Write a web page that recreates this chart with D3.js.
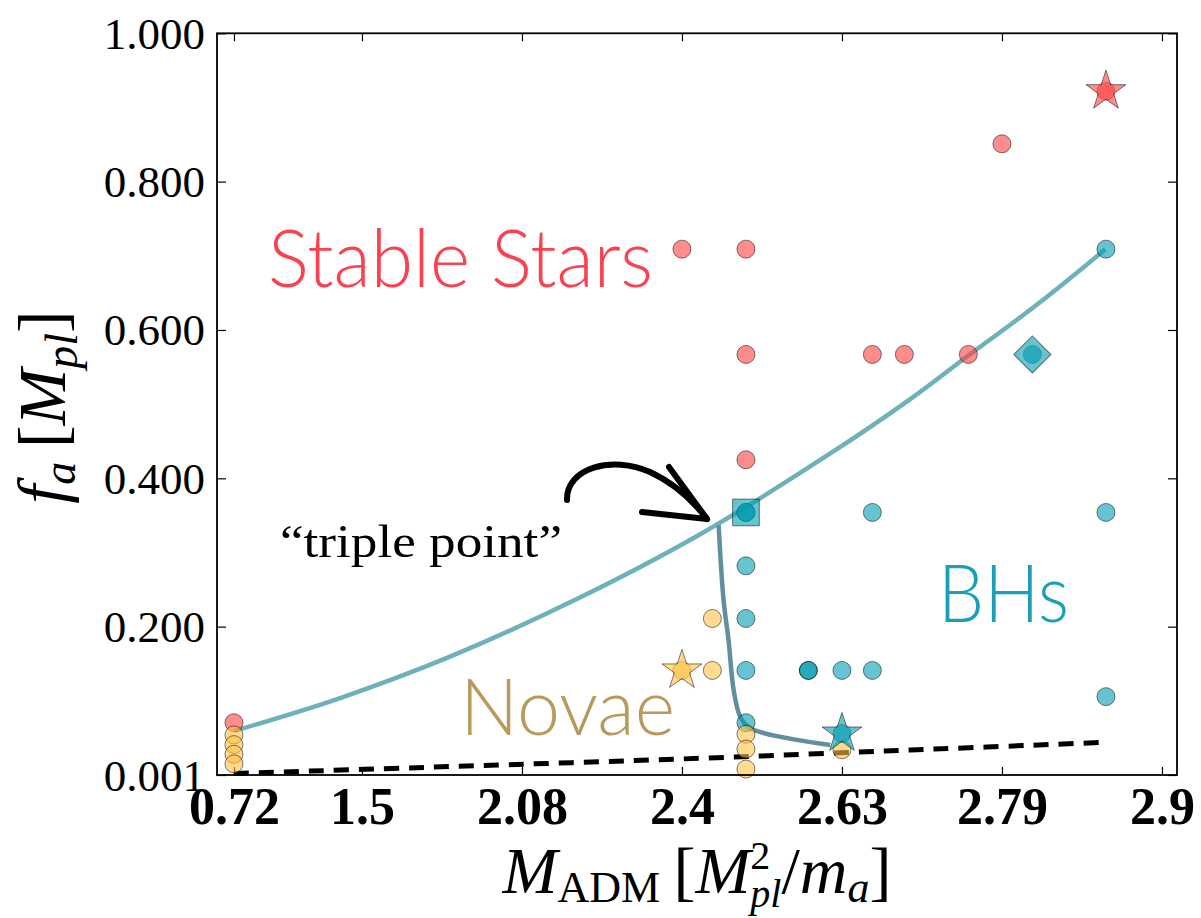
<!DOCTYPE html>
<html>
<head>
<meta charset="utf-8">
<script src="https://cdn.jsdelivr.net/npm/d3@7"></script>
<style>
html,body{margin:0;padding:0;background:#fff;}
svg{display:block;}
</style>
</head>
<body>
<svg id="chart" width="1201" height="918"></svg>
<script>
// ---------- data ----------
const xTickPos = [0.2, 1, 2, 3, 4, 5, 6];
const xTickLabels = ["0.72", "1.5", "2.08", "2.4", "2.63", "2.79", "2.9"];
const yTickPos = [0, 0.2, 0.4, 0.6, 0.8, 1.0];
const yTickLabels = ["0.001", "0.200", "0.400", "0.600", "0.800", "1.000"];

// stable stars (red circles)
const starsX = [0.2, 3.0, 3.4, 3.4, 3.4, 4.19, 4.39, 4.79, 5.0];
const starsY = [0.0705, 0.709, 0.709, 0.567, 0.425, 0.567, 0.567, 0.567, 0.851];
// black holes (teal circles)
const bhX = [3.4, 3.4, 3.4, 3.4, 3.4, 4.0, 4.19, 4.19, 5.65, 5.65, 5.65];
const bhY = [0.354, 0.282, 0.211, 0.141, 0.0705, 0.141, 0.354, 0.141, 0.709, 0.354, 0.1056];
// highlighted dark BH
const bhDarkX = [3.79];
const bhDarkY = [0.141];
// novae (yellow circles)
const novaeX = [0.2, 0.2, 0.2, 0.2, 3.19, 3.19, 3.4, 3.4, 3.4, 4.0];
const novaeY = [0.054, 0.041, 0.028, 0.015, 0.211, 0.141, 0.055, 0.035, 0.008, 0.034];

// special markers
const redStar = {x: 5.65, y: 0.922};
const tealStar = {x: 4.0, y: 0.056};
const yellowStar = {x: 3.0, y: 0.141};
const tealDiamond = {x: 5.19, y: 0.567};
const tealSquare = {x: 3.4, y: 0.354};

// boundary curve (stars / BHs)
const boundaryX = [0.2, 0.864, 1.539, 2.333, 3.114, 3.927, 4.427, 4.79, 5.24, 5.646];
const boundaryY = [0.0593, 0.1038, 0.1585, 0.2362, 0.3246, 0.4335, 0.5068, 0.5655, 0.6377, 0.7087];
// novae / BH boundary from the triple point
const tripleX = [3.229, 3.26, 3.291, 3.323, 3.364, 3.427, 3.927];
const tripleY = [0.337, 0.236, 0.182, 0.1146, 0.0786, 0.063, 0.0404];
// dashed lower line
const dashX = [0.2, 1.54, 3.11, 4.43, 5.62];
const dashY = [0.002, 0.0113, 0.0225, 0.0337, 0.0438];

// ---------- layout ----------
const L = 217, R = 1177, T = 33.3, B = 775;
const svg = d3.select("#chart");
const x = d3.scaleLinear().domain([0.094, 6.094]).range([L, R]);
const y = d3.scaleLinear().domain([0, 1]).range([B, T]);

const serif = "'Liberation Serif', 'Times New Roman', serif";
const sans = "Lato, 'Open Sans', sans-serif";

// ---------- axes ----------
const axB = svg.append("g").attr("transform", `translate(0,${B})`)
  .call(d3.axisBottom(x).tickValues(xTickPos).tickFormat((d, i) => xTickLabels[i]).tickSize(-8));
axB.select(".domain").remove();
axB.selectAll("text").attr("y", 49).attr("dy", 0)
  .style("font-family", serif).style("font-size", "52px").style("font-weight", "bold").attr("fill", "#000");

const axT = svg.append("g").attr("transform", `translate(0,${T})`)
  .call(d3.axisTop(x).tickValues(xTickPos).tickFormat("").tickSize(-8));
axT.select(".domain").remove();

const axL = svg.append("g").attr("transform", `translate(${L},0)`)
  .call(d3.axisLeft(y).tickValues(yTickPos).tickFormat((d, i) => yTickLabels[i]).tickSize(-9));
axL.select(".domain").remove();
axL.selectAll("text").attr("x", -12).attr("dy", 0).attr("y", 15)
  .style("font-family", serif).style("font-size", "45px").style("font-weight", "normal").attr("fill", "#000");

const axR = svg.append("g").attr("transform", `translate(${R},0)`)
  .call(d3.axisRight(y).tickValues(yTickPos).tickFormat("").tickSize(-9));
axR.select(".domain").remove();

svg.selectAll(".tick line").attr("stroke", "#000").attr("stroke-width", 1.2);

// ---------- lines ----------
const lineGen = d3.line().x(d => x(d[0])).y(d => y(d[1])).curve(d3.curveCatmullRom.alpha(0.5));
svg.append("path").datum(dashX.map((d, i) => [d, dashY[i]]))
  .attr("d", lineGen).attr("fill", "none").attr("stroke", "#000")
  .attr("stroke-width", 5).attr("stroke-dasharray", "15,10");
svg.append("path").datum(boundaryX.map((d, i) => [d, boundaryY[i]]))
  .attr("d", lineGen).attr("fill", "none").attr("stroke", "#6db2ba").attr("stroke-width", 4.5);
svg.append("path").datum(tripleX.map((d, i) => [d, tripleY[i]]))
  .attr("d", lineGen).attr("fill", "none").attr("stroke", "#5f8fa0").attr("stroke-width", 4.5);

// ---------- markers ----------
const RED = "#ff4040", TEAL = "#009bb1", YEL = "#ffc144";
const mk = svg.append("g");
function circles(xs, ys, color, op, strokeOp) {
  mk.selectAll(null).data(xs.map((d, i) => [d, ys[i]])).enter().append("circle")
    .attr("cx", d => x(d[0])).attr("cy", d => y(d[1])).attr("r", 9)
    .attr("fill", color).attr("fill-opacity", op)
    .attr("stroke", "#000").attr("stroke-opacity", strokeOp).attr("stroke-width", 1);
}
function symbol(p, type, size, color, rot) {
  mk.append("path")
    .attr("d", d3.symbol().type(type).size(size)())
    .attr("transform", `translate(${x(p.x)},${y(p.y)}) rotate(${rot || 0})`)
    .attr("fill", color).attr("fill-opacity", 0.6)
    .attr("stroke", "#000").attr("stroke-opacity", 0.5).attr("stroke-width", 1);
}
circles(starsX, starsY, RED, 0.6, 0.5);
circles(bhX, bhY, TEAL, 0.6, 0.5);
circles(bhDarkX, bhDarkY, TEAL, 0.85, 0.8);
circles(novaeX, novaeY, YEL, 0.6, 0.5);
// special points: circle + symbol
circles([redStar.x], [redStar.y], RED, 0.6, 0.3);
symbol(redStar, d3.symbolStar, 495, RED);
circles([yellowStar.x], [yellowStar.y], YEL, 0.6, 0.3);
symbol(yellowStar, d3.symbolStar, 495, YEL);
circles([tealStar.x], [tealStar.y], TEAL, 0.6, 0.3);
symbol(tealStar, d3.symbolStar, 495, TEAL);
circles([tealDiamond.x], [tealDiamond.y], TEAL, 0.6, 0.3);
symbol(tealDiamond, d3.symbolSquare, 690, TEAL, 45);
circles([tealSquare.x], [tealSquare.y], TEAL, 0.6, 0.3);
symbol(tealSquare, d3.symbolSquare, 713, TEAL, 0);

// ---------- frame ----------
svg.append("rect").attr("x", L).attr("y", T).attr("width", R - L).attr("height", B - T)
  .attr("fill", "none").attr("stroke", "#000").attr("stroke-width", 1.8);

// ---------- annotations ----------
svg.append("text").attr("x", 268).attr("y", 287).text("Stable Stars")
  .attr("font-family", sans).attr("font-weight", 300).attr("font-size", 80)
  .attr("textLength", 385).attr("lengthAdjust", "spacingAndGlyphs").attr("fill", "#fb4150");
svg.append("text").attr("x", 938).attr("y", 622).text("BHs")
  .attr("font-family", sans).attr("font-weight", 300).attr("font-size", 80)
  .attr("textLength", 131).attr("lengthAdjust", "spacingAndGlyphs").attr("fill", "#1a9fb8");
svg.append("text").attr("x", 460).attr("y", 735).text("Novae")
  .attr("font-family", sans).attr("font-weight", 300).attr("font-size", 78)
  .attr("textLength", 215).attr("lengthAdjust", "spacingAndGlyphs").attr("fill", "#b99a5c");
svg.append("text").attr("x", 280).attr("y", 557).text("\u201Ctriple point\u201D")
  .attr("font-family", serif).attr("font-size", 46)
  .attr("textLength", 282).attr("lengthAdjust", "spacingAndGlyphs").attr("fill", "#000");

// hand-drawn arrow
svg.append("path")
  .attr("d", "M567,500 C566,468 612,455 650,472 C676,484 694,502 707,519")
  .attr("fill", "none").attr("stroke", "#000").attr("stroke-width", 6).attr("stroke-linecap", "round");
svg.append("path")
  .attr("d", "M669,467 L707,519 L642,512")
  .attr("fill", "none").attr("stroke", "#000").attr("stroke-width", 6)
  .attr("stroke-linecap", "round").attr("stroke-linejoin", "round");

// ---------- axis titles ----------
const xl = svg.append("text").attr("x", 697).attr("y", 893).attr("text-anchor", "middle")
  .attr("font-family", serif).attr("font-size", 66).attr("fill", "#000");
xl.append("tspan").attr("font-style", "italic").text("M");
xl.append("tspan").attr("font-size", 44).attr("dy", 9).text("ADM");
xl.append("tspan").attr("dy", -9).text("\u2009[");
xl.append("tspan").attr("font-style", "italic").text("M");
xl.append("tspan").attr("font-size", 40).attr("dy", -24).text("2");
xl.append("tspan").attr("font-size", 40).attr("font-style", "italic").attr("dx", -20).attr("dy", 38).text("pl");
xl.append("tspan").attr("dy", -14).text("/");
xl.append("tspan").attr("font-style", "italic").text("m");
xl.append("tspan").attr("font-size", 44).attr("font-style", "italic").attr("dy", 9).text("a");
xl.append("tspan").attr("dy", -9).text("]");

const yl = svg.append("text").attr("transform", "translate(65,407) rotate(-90)")
  .attr("text-anchor", "middle").attr("font-family", serif).attr("font-size", 68).attr("fill", "#000");
yl.append("tspan").attr("font-style", "italic").text("f");
yl.append("tspan").attr("font-size", 46).attr("font-style", "italic").attr("dy", 10).text("a");
yl.append("tspan").attr("dy", -10).text("\u2009[");
yl.append("tspan").attr("font-style", "italic").text("M");
yl.append("tspan").attr("font-size", 46).attr("font-style", "italic").attr("dy", 12).text("pl");
yl.append("tspan").attr("dy", -12).text("]");
</script>
</body>
</html>
